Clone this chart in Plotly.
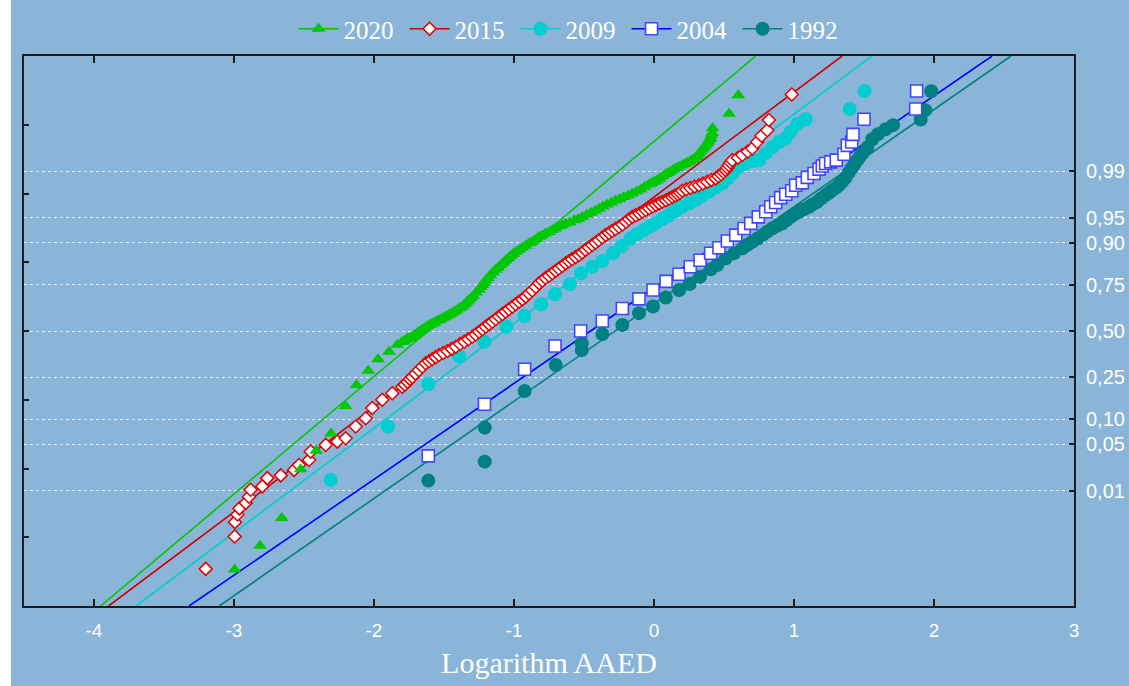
from statistics import NormalDist

import plotly.graph_objects as go

# ---- data: logarithm of AAED (x) against expected normal value (y) ----
x_2020 = [-2.995, -2.814, -2.659, -2.524, -2.412, -2.307, -2.204, -2.125, -2.041, -1.971,
          -1.893, -1.834,
          -1.80, -1.787, -1.774, -1.76, -1.745, -1.73, -1.714, -1.70, -1.685, -1.67,
          -1.655, -1.638, -1.62, -1.60, -1.583, -1.567, -1.55, -1.53, -1.512, -1.496,
          -1.48, -1.46, -1.443, -1.427, -1.41, -1.39, -1.371, -1.358, -1.345, -1.333,
          -1.321, -1.305, -1.29, -1.27, -1.25, -1.237, -1.225, -1.213, -1.202, -1.185,
          -1.17, -1.15, -1.131, -1.113, -1.095, -1.077, -1.059, -1.042, -1.025, -1.006,
          -0.988, -0.965, -0.94, -0.917, -0.893, -0.874, -0.855, -0.838, -0.821, -0.798,
          -0.775, -0.75, -0.726, -0.703, -0.68, -0.655, -0.631, -0.60, -0.57, -0.54,
          -0.512, -0.48, -0.45, -0.42, -0.393, -0.365, -0.335, -0.305, -0.274, -0.245,
          -0.215, -0.185, -0.155, -0.125, -0.095, -0.065, -0.036, -0.018, 0.0, 0.02,
          0.04, 0.062, 0.084, 0.10, 0.12, 0.14, 0.16, 0.18, 0.202, 0.22,
          0.24, 0.257, 0.274, 0.287, 0.30, 0.31, 0.321, 0.333, 0.345, 0.357,
          0.369, 0.38, 0.39, 0.398, 0.405, 0.41, 0.415, 0.418,
          0.536, 0.602]
z_2020 = [-3.47, -3.125, -2.72, -2.01, -1.74, -1.49, -1.09, -0.785, -0.577, -0.41,
          -0.30, -0.20,
          -0.16, -0.15, -0.13, -0.11, -0.10, -0.09, -0.06, -0.05, -0.02, 0.00,
          0.025, 0.04, 0.07, 0.09, 0.11, 0.12, 0.15, 0.16, 0.185, 0.20,
          0.22, 0.24, 0.26, 0.28, 0.30, 0.33, 0.35, 0.38, 0.40, 0.43,
          0.45, 0.48, 0.51, 0.56, 0.60, 0.64, 0.67, 0.70, 0.74, 0.77,
          0.81, 0.85, 0.89, 0.92, 0.96, 0.99, 1.03, 1.06, 1.09, 1.12,
          1.15, 1.18, 1.21, 1.24, 1.275, 1.29, 1.32, 1.34, 1.37, 1.39,
          1.42, 1.44, 1.47, 1.49, 1.52, 1.54, 1.565, 1.58, 1.61, 1.63,
          1.66, 1.69, 1.72, 1.75, 1.78, 1.81, 1.84, 1.87, 1.90, 1.92,
          1.95, 1.97, 2.00, 2.03, 2.06, 2.10, 2.13, 2.15, 2.17, 2.19,
          2.22, 2.25, 2.28, 2.30, 2.32, 2.35, 2.37, 2.39, 2.41, 2.43,
          2.45, 2.47, 2.49, 2.50, 2.53, 2.55, 2.58, 2.61, 2.64, 2.67,
          2.70, 2.73, 2.76, 2.79, 2.81, 2.85, 2.88, 2.95,
          3.16, 3.43]

x_2015 = [-3.202, -2.995, -2.993, -2.975, -2.961, -2.916, -2.893, -2.881, -2.798, -2.762,
          -2.666, -2.571, -2.536, -2.464, -2.452, -2.345, -2.262, -2.202, -2.131, -2.059,
          -2.012, -1.941, -1.869,
          -1.798, -1.78, -1.76, -1.743, -1.726, -1.703, -1.68, -1.655, -1.631, -1.608,
          -1.585, -1.56, -1.536, -1.505, -1.475, -1.445, -1.416, -1.385, -1.355, -1.326,
          -1.298, -1.274, -1.25, -1.226, -1.202, -1.178, -1.155, -1.131, -1.107, -1.083,
          -1.06, -1.036, -1.012, -0.988, -0.965, -0.94, -0.916, -0.893, -0.87, -0.845,
          -0.821, -0.798, -0.775, -0.75, -0.726, -0.703, -0.68, -0.655, -0.631, -0.608,
          -0.585, -0.56, -0.536, -0.513, -0.49, -0.465, -0.441, -0.418, -0.395, -0.37,
          -0.345, -0.322, -0.30, -0.275, -0.25, -0.225, -0.20, -0.178, -0.155, -0.13,
          -0.105, -0.082, -0.059, -0.035, -0.01, 0.013, 0.036, 0.06, 0.085, 0.108,
          0.131, 0.15, 0.17, 0.186, 0.202, 0.23, 0.26, 0.29, 0.321, 0.35,
          0.38, 0.41, 0.441, 0.46, 0.48, 0.497, 0.512, 0.524, 0.535, 0.547,
          0.559, 0.60, 0.631, 0.67, 0.702, 0.738, 0.768, 0.809, 0.821, 0.984]
z_2015 = [-3.46, -2.99, -2.78, -2.67, -2.58, -2.50, -2.41, -2.31, -2.26, -2.14,
          -2.10, -2.02, -1.95, -1.875, -1.754, -1.657, -1.609, -1.56, -1.39, -1.27,
          -1.12, -1.00, -0.906,
          -0.81, -0.78, -0.74, -0.70, -0.67, -0.62, -0.57, -0.52, -0.47, -0.44,
          -0.41, -0.38, -0.35, -0.32, -0.29, -0.26, -0.23, -0.19, -0.155, -0.12,
          -0.083, -0.05, -0.01, 0.025, 0.063, 0.10, 0.135, 0.17, 0.21, 0.245,
          0.28, 0.315, 0.353, 0.39, 0.425, 0.46, 0.50, 0.545, 0.59, 0.64,
          0.693, 0.73, 0.77, 0.805, 0.84, 0.875, 0.91, 0.945, 0.984, 1.015,
          1.045, 1.075, 1.105, 1.14, 1.18, 1.215, 1.25, 1.285, 1.32, 1.36,
          1.395, 1.425, 1.455, 1.485, 1.516, 1.55, 1.59, 1.625, 1.66, 1.685,
          1.71, 1.735, 1.76, 1.785, 1.81, 1.835, 1.856, 1.88, 1.90, 1.925,
          1.95, 1.97, 1.99, 2.01, 2.04, 2.06, 2.08, 2.10, 2.12, 2.145,
          2.17, 2.195, 2.22, 2.25, 2.28, 2.31, 2.34, 2.375, 2.41, 2.45,
          2.485, 2.52, 2.56, 2.61, 2.655, 2.75, 2.84, 2.92, 3.07, 3.44]

x_2009 = [-2.309, -1.90, -1.612, -1.393, -1.212, -1.055, -0.926, -0.805, -0.707, -0.60,
          -0.521, -0.441, -0.369, -0.293, -0.232, -0.168, -0.12, -0.071, -0.03, 0.012,
          0.06, 0.107, 0.155, 0.202, 0.25, 0.298, 0.345, 0.393, 0.44, 0.488,
          0.525, 0.559, 0.607, 0.645, 0.679, 0.715, 0.75, 0.798, 0.845, 0.893,
          0.941, 0.976, 1.024, 1.084, 1.398, 1.504]
z_2009 = [-2.166, -1.388, -0.77, -0.363, -0.156, 0.0625, 0.218, 0.39, 0.533, 0.683,
          0.839, 0.935, 1.017, 1.13, 1.235, 1.345, 1.41, 1.468, 1.52, 1.565,
          1.625, 1.68, 1.745, 1.807, 1.855, 1.904, 1.965, 2.025, 2.085, 2.147,
          2.22, 2.29, 2.39, 2.43, 2.46, 2.475, 2.485, 2.583, 2.67, 2.75,
          2.80, 2.90, 3.01, 3.08, 3.23, 3.49]

x_2004 = [-1.612, -1.211, -0.924, -0.707, -0.524, -0.369, -0.226, -0.107, -0.007, 0.086,
          0.179, 0.259, 0.329, 0.405, 0.464, 0.524, 0.584, 0.643, 0.691, 0.745,
          0.798, 0.834, 0.869, 0.905, 0.941, 0.984, 1.012, 1.059, 1.095, 1.143,
          1.179, 1.202, 1.226, 1.262, 1.302, 1.357, 1.381, 1.412, 1.421, 1.50,
          1.869, 1.876]
z_2004 = [-1.817, -1.065, -0.557, -0.218, 0.0, 0.145, 0.327, 0.468, 0.596, 0.722,
          0.826, 0.935, 1.03, 1.13, 1.21, 1.31, 1.395, 1.49, 1.565, 1.66,
          1.734, 1.807, 1.87, 1.94, 1.99, 2.04, 2.12, 2.155, 2.234, 2.29,
          2.355, 2.40, 2.437, 2.46, 2.485, 2.57, 2.70, 2.75, 2.86, 3.08,
          3.23, 3.49]

x_1992 = [-1.612, -1.209, -1.209, -0.924, -0.702, -0.516, -0.516, -0.369, -0.226, -0.107,
          -0.007, 0.084, 0.179, 0.254, 0.329, 0.405, 0.452, 0.512, 0.571, 0.631,
          0.665, 0.702, 0.74, 0.774, 0.81, 0.845, 0.88, 0.916, 0.945, 0.976,
          1.005, 1.036, 1.07, 1.107, 1.135, 1.166, 1.195, 1.226, 1.25, 1.274,
          1.30, 1.321, 1.345, 1.369, 1.39, 1.411, 1.432, 1.452, 1.47, 1.488,
          1.524, 1.559, 1.60, 1.655, 1.707, 1.905, 1.938, 1.98]
z_1992 = [-2.176, -1.90, -1.405, -0.872, -0.494, -0.276, -0.179, -0.044, 0.087, 0.26,
          0.356, 0.487, 0.596, 0.683, 0.789, 0.897, 0.959, 1.057, 1.129, 1.202,
          1.25, 1.298, 1.345, 1.395, 1.445, 1.493, 1.53, 1.565, 1.61, 1.661,
          1.70, 1.734, 1.77, 1.807, 1.845, 1.88, 1.93, 1.977, 2.01, 2.05,
          2.085, 2.122, 2.175, 2.231, 2.30, 2.365, 2.425, 2.485, 2.535, 2.583,
          2.67, 2.79, 2.863, 2.936, 2.994, 3.077, 3.212, 3.488]

# fitted normal lines: mean and standard deviation of log AAED per year
fit_mean = {"2020": -1.613, "2015": -1.276, "2009": -1.072, "2004": -0.453, "1992": -0.278}
fit_sd = {"2020": 0.585, "2015": 0.655, "2009": 0.657, "2004": 0.717, "1992": 0.707}

# probability scale shown on the right-hand axis
prob_levels = [0.01, 0.05, 0.10, 0.25, 0.50, 0.75, 0.90, 0.95, 0.99]
prob_labels = ["0,01", "0,05", "0,10", "0,25", "0,50", "0,75", "0,90", "0,95", "0,99"]
x_ticks = [-4, -3, -2, -1, 0, 1, 2, 3]
x_tick_labels = ["-4", "-3", "-2", "-1", "0", "1", "2", "3"]
z_ticks = [-3, -2, -1, 0, 1, 2, 3]

BG = "#8AB4D8"
FRAME = "#1c1c1c"
Z_MIN, Z_MAX = -4.0, 4.0

series = [
    # name, x, z, line colour, marker style
    ("1992", x_1992, z_1992, "#008080",
     dict(symbol="circle", size=14, color="#008080", line=dict(width=0))),
    ("2004", x_2004, z_2004, "#0000FF",
     dict(symbol="square", size=12, color="white", line=dict(color="#4444FF", width=1.6))),
    ("2009", x_2009, z_2009, "#00CED1",
     dict(symbol="circle", size=14, color="#00CED1", line=dict(width=0))),
    ("2015", x_2015, z_2015, "#D00000",
     dict(symbol="diamond", size=10, color="white", line=dict(color="#E00000", width=1.5))),
    ("2020", x_2020, z_2020, "#00C800",
     dict(symbol="triangle-up", size=12, color="#00C800", line=dict(width=0))),
]

fig = go.Figure()

# fitted lines underneath the points
for name, xs, zs, lc, mk in series:
    m, s = fit_mean[name], fit_sd[name]
    fig.add_trace(go.Scatter(
        x=[m + s * Z_MIN, m + s * Z_MAX], y=[Z_MIN, Z_MAX], mode="lines",
        line=dict(color=lc, width=1.6), showlegend=False, hoverinfo="skip"))

for name, xs, zs, lc, mk in series:
    fig.add_trace(go.Scatter(
        x=xs, y=zs, mode="markers", marker=mk, name=name, showlegend=False))

# legend entries (line + symbol), newest year first
for name, xs, zs, lc, mk in reversed(series):
    fig.add_trace(go.Scatter(
        x=[None], y=[None], yaxis="y2", mode="lines+markers", name=name,
        line=dict(color=lc, width=1.6), marker=mk))

fig.update_layout(
    width=1129, height=686,
    margin=dict(l=24, r=55, t=56, b=80, autoexpand=False),
    paper_bgcolor=BG, plot_bgcolor=BG,
    showlegend=True,
    legend=dict(
        orientation="h", x=0.521, xanchor="center", y=1.049, yanchor="middle",
        font=dict(family="Liberation Serif", size=25, color="white"),
        bgcolor="rgba(0,0,0,0)", itemwidth=40, tracegroupgap=0,
        entrywidth=56, entrywidthmode="pixels",
    ),
    xaxis=dict(
        range=[-4.5, 3.0], tickmode="array", tickvals=x_ticks, ticktext=x_tick_labels,
        ticks="inside", ticklen=7, tickwidth=1.5, tickcolor=FRAME,
        showline=True, linecolor=FRAME, linewidth=2, mirror="ticks",
        showgrid=False, zeroline=False, automargin=False,
        tickfont=dict(family="Liberation Sans", size=19, color="white"),
        ticklabelstandoff=6,
        title=dict(text="Logarithm AAED", standoff=12,
                   font=dict(family="Liberation Serif", size=30, color="white")),
    ),
    yaxis=dict(
        range=[Z_MIN, Z_MAX], tickmode="array",
        tickvals=[NormalDist().inv_cdf(p) for p in prob_levels],
        ticks="", showticklabels=False, automargin=False,
        showgrid=True, gridcolor="rgba(238,238,238,0.95)", gridwidth=1, griddash="dot",
        minor=dict(tickmode="array", tickvals=z_ticks, ticks="inside", ticklen=5,
                   tickwidth=1.5, tickcolor=FRAME, showgrid=False),
        showline=True, linecolor=FRAME, linewidth=2, mirror=True, zeroline=False,
    ),
    yaxis2=dict(
        range=[Z_MIN, Z_MAX], overlaying="y", side="right", tickmode="array",
        tickvals=[NormalDist().inv_cdf(p) for p in prob_levels], ticktext=prob_labels,
        ticks="inside", ticklen=5, tickwidth=1.5, tickcolor=FRAME,
        showgrid=False, zeroline=False, showline=False, automargin=False,
        tickfont=dict(family="Liberation Sans", size=20, color="white"),
        ticklabelstandoff=11,
    ),
    shapes=[dict(type="rect", xref="paper", yref="paper",
                 x0=-24 / 1050, x1=-13 / 1050, y0=-80 / 550, y1=1 + 56 / 550,
                 fillcolor="white", line=dict(width=0), layer="below")],
)

fig.write_html("out.html")
